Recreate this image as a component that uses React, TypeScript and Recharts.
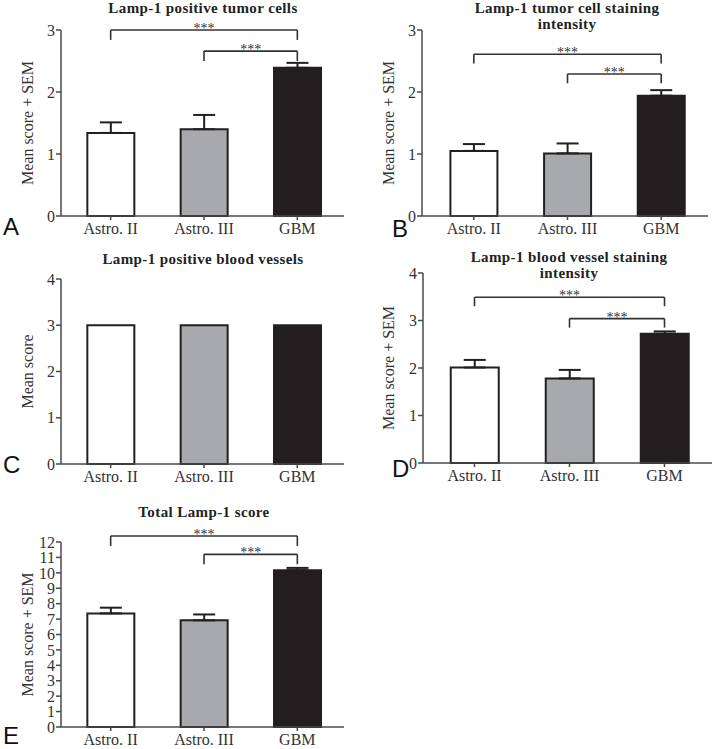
import { Bar, BarChart, Cell, ErrorBar, Label, ReferenceLine, XAxis, YAxis } from 'recharts'

const SERIF = "'Liberation Serif', 'Times New Roman', serif"
const SANS = "'Liberation Sans', Arial, sans-serif"
const INK = '#231f20'
const AXIS = '#4a4a4a'

const GROUPS = ['Astro. II', 'Astro. III', 'GBM']
const FILLS = ['#ffffff', '#a7a9ac', '#231f20']

// A – positive tumor cells
const cellsMean = [1.34, 1.4, 2.39]
const cellsSem = [0.17, 0.23, 0.08]
// B – tumor cell staining intensity
const cellIntensityMean = [1.05, 1.01, 1.94]
const cellIntensitySem = [0.11, 0.16, 0.09]
// C – positive blood vessels (no SEM shown)
const vesselsMean = [3, 3, 3]
// D – blood vessel staining intensity
const vesselIntensityMean = [2.01, 1.78, 2.72]
const vesselIntensitySem = [0.16, 0.18, 0.05]
// E – total score
const totalMean = [7.37, 6.92, 10.17]
const totalSem = [0.37, 0.38, 0.15]

const ticks3 = [0, 1, 2, 3]
const ticks4 = [0, 1, 2, 3, 4]
const ticks12 = [0, 1, 2, 3, 4, 5, 6, 7, 8, 9, 10, 11, 12]

// significance brackets: bar y level and leg end (data units)
const cellsBrackets = [
  { from: 'Astro. II', to: 'GBM', y: 3, leg: 2.84 },
  { from: 'Astro. III', to: 'GBM', y: 2.66, leg: 2.5 },
]
const cellIntensityBrackets = [
  { from: 'Astro. II', to: 'GBM', y: 2.61, leg: 2.46 },
  { from: 'Astro. III', to: 'GBM', y: 2.29, leg: 2.14 },
]
const vesselIntensityBrackets = [
  { from: 'Astro. II', to: 'GBM', y: 3.49, leg: 3.3 },
  { from: 'Astro. III', to: 'GBM', y: 3.04, leg: 2.85 },
]
const totalBrackets = [
  { from: 'Astro. II', to: 'GBM', y: 12.39, leg: 11.74 },
  { from: 'Astro. III', to: 'GBM', y: 11.2, leg: 10.56 },
]

type Bracket = { from: string; to: string; y: number; leg: number }

interface PanelProps {
  left: number
  top: number
  width: number
  height: number
  marginTop: number
  marginRight: number
  yWidth: number
  padLeft: number
  xHeight: number
  means: number[]
  sems?: number[]
  ticks: number[]
  yLabel: string
  brackets?: Bracket[]
}

function Panel(p: PanelProps) {
  const data = GROUPS.map((name, i) => ({
    name,
    mean: p.means[i],
    err: p.sems ? [0, p.sems[i]] : undefined,
  }))
  const max = p.ticks[p.ticks.length - 1]
  const tickStyle = { fontSize: 16, fill: '#333', fontFamily: SERIF }

  return (
    <div style={{ position: 'absolute', left: p.left, top: p.top }}>
      <BarChart
        width={p.width}
        height={p.height}
        data={data}
        barCategoryGap="25%"
        margin={{ top: p.marginTop, right: p.marginRight, left: 0, bottom: 0 }}
      >
        <XAxis
          dataKey="name"
          interval={0}
          height={p.xHeight}
          padding={{ left: p.padLeft, right: 0 }}
          tickSize={4}
          tickMargin={3}
          tick={tickStyle}
          tickLine={{ stroke: AXIS, strokeWidth: 1.5 }}
          axisLine={{ stroke: AXIS, strokeWidth: 1.5 }}
        />
        <YAxis
          width={p.yWidth}
          domain={[0, max]}
          ticks={p.ticks}
          interval={0}
          tickSize={5}
          tickMargin={1}
          tick={tickStyle}
          tickLine={{ stroke: AXIS, strokeWidth: 1.5 }}
          axisLine={{ stroke: AXIS, strokeWidth: 1.5 }}
        >
          <Label
            value={p.yLabel}
            angle={-90}
            position="center"
            dx={-3}
            style={{ fontSize: 16, fill: '#333', fontFamily: SERIF }}
          />
        </YAxis>
        <Bar dataKey="mean" stroke={INK} strokeWidth={2} isAnimationActive={false}>
          {data.map((d, i) => (
            <Cell key={d.name} fill={FILLS[i]} />
          ))}
          {p.sems && (
            <ErrorBar dataKey="err" direction="y" width={11} stroke={INK} strokeWidth={2} />
          )}
        </Bar>
        {(p.brackets ?? []).map((b) => (
          <g key={b.from + b.y}>
            <ReferenceLine
              segment={[{ x: b.from, y: b.y }, { x: b.to, y: b.y }]}
              stroke="#333"
              strokeWidth={1.6}
              ifOverflow="visible"
              label={{ value: '***', position: 'center', dy: -2, fontSize: 14, fill: '#333', fontFamily: SERIF }}
            />
            <ReferenceLine
              segment={[{ x: b.from, y: b.y }, { x: b.from, y: b.leg }]}
              stroke="#333"
              strokeWidth={1.6}
              ifOverflow="visible"
            />
            <ReferenceLine
              segment={[{ x: b.to, y: b.y }, { x: b.to, y: b.leg }]}
              stroke="#333"
              strokeWidth={1.6}
              ifOverflow="visible"
            />
          </g>
        ))}
      </BarChart>
    </div>
  )
}

const titleStyle = { fontFamily: SERIF, fontWeight: 700, fontSize: 15, letterSpacing: 0.4, fill: '#222' }
const letterStyle = { fontFamily: SANS, fontSize: 24, fill: '#111' }

export default function App() {
  return (
    <div style={{ position: 'absolute', left: 0, top: 0, width: 718, height: 749, background: '#fff' }}>
      <Panel left={0} top={0} width={355} height={245} marginTop={30} marginRight={11} yWidth={61} padLeft={3} xHeight={29}
        means={cellsMean} sems={cellsSem} ticks={ticks3} yLabel="Mean score + SEM" brackets={cellsBrackets} />
      <Panel left={360} top={0} width={358} height={245} marginTop={30} marginRight={10} yWidth={62} padLeft={5} xHeight={29}
        means={cellIntensityMean} sems={cellIntensitySem} ticks={ticks3} yLabel="Mean score + SEM" brackets={cellIntensityBrackets} />
      <Panel left={0} top={240} width={355} height={250} marginTop={39} marginRight={11} yWidth={61} padLeft={3} xHeight={26}
        means={vesselsMean} ticks={ticks4} yLabel="Mean score" />
      <Panel left={360} top={240} width={358} height={250} marginTop={33} marginRight={6} yWidth={63} padLeft={4} xHeight={27}
        means={vesselIntensityMean} sems={vesselIntensitySem} ticks={ticks4} yLabel="Mean score + SEM" brackets={vesselIntensityBrackets} />
      <Panel left={0} top={480} width={355} height={269} marginTop={62} marginRight={11} yWidth={61} padLeft={3} xHeight={22}
        means={totalMean} sems={totalSem} ticks={ticks12} yLabel="Mean score + SEM" brackets={totalBrackets} />

      <svg width={718} height={749} style={{ position: 'absolute', left: 0, top: 0, pointerEvents: 'none' }}>
        <text x={203} y={13} textAnchor="middle" style={titleStyle}>Lamp-1 positive tumor cells</text>
        <text x={567} y={13} textAnchor="middle" style={titleStyle}>Lamp-1 tumor cell staining</text>
        <text x={567} y={29} textAnchor="middle" style={titleStyle}>intensity</text>
        <text x={203} y={264} textAnchor="middle" style={titleStyle}>Lamp-1 positive blood vessels</text>
        <text x={569} y={262} textAnchor="middle" style={titleStyle}>Lamp-1 blood vessel staining</text>
        <text x={569} y={278} textAnchor="middle" style={titleStyle}>intensity</text>
        <text x={204} y={517} textAnchor="middle" style={titleStyle}>Total Lamp-1 score</text>

        <text x={3} y={235} style={letterStyle}>A</text>
        <text x={392} y={237} style={letterStyle}>B</text>
        <text x={3} y={473} style={letterStyle}>C</text>
        <text x={392} y={477} style={letterStyle}>D</text>
        <text x={3} y={744} style={letterStyle}>E</text>
      </svg>
    </div>
  )
}
